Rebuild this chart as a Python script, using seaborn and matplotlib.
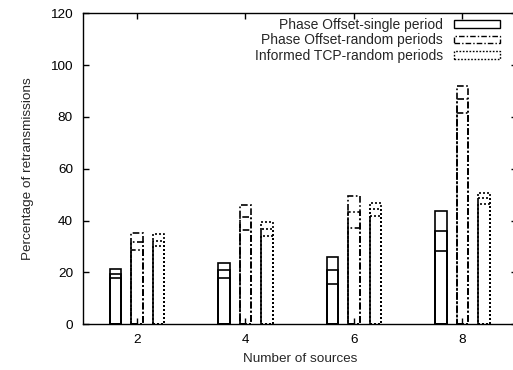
import matplotlib
matplotlib.use("Agg")
import matplotlib.pyplot as plt
from matplotlib.patches import Patch
import seaborn as sns
import pandas as pd

# ---- data ----
sources = [2, 4, 6, 8]
series_names = ["Phase Offset-single period",
                "Phase Offset-random periods",
                "Informed TCP-random periods"]

single_max = [21.2, 23.5, 25.8, 43.8]
single_mid = [19.5, 20.8, 20.9, 35.9]
single_min = [17.8, 17.7, 15.5, 28.2]

random_max = [35.3, 46.2, 49.5, 91.9]
random_mid = [31.9, 41.3, 43.2, 86.8]
random_min = [28.7, 36.4, 37.0, 81.7]

informed_max = [34.8, 39.5, 46.7, 50.6]
informed_mid = [32.3, 36.8, 44.4, 48.8]
informed_min = [30.2, 34.1, 41.8, 46.4]

y_ticks = [0, 20, 40, 60, 80, 100, 120]

levels = {
    "max": [single_max, random_max, informed_max],
    "mid": [single_mid, random_mid, informed_mid],
    "min": [single_min, random_min, informed_min],
}

rows = []
for lvl, arrs in levels.items():
    for name, vals in zip(series_names, arrs):
        for s, v in zip(sources, vals):
            rows.append({"sources": s, "series": name, "level": lvl, "value": v})
df = pd.DataFrame(rows)

# ---- style ----
sns.set_theme(style="ticks")
plt.rcParams["font.family"] = ["Liberation Sans", "DejaVu Sans"]
plt.rcParams["font.size"] = 9

fig = plt.figure(figsize=(5.13, 3.70), dpi=100)
ax = fig.add_axes([82.7 / 513, (370 - 324.3) / 370,
                   (516.7 - 82.7) / 513, (324.3 - 13.3) / 370])

line_styles = ["solid", (0, (4, 1.5, 1, 1.5)), (0, (1.2, 1.2))]

for lvl in ["max", "mid", "min"]:
    sns.barplot(data=df[df["level"] == lvl], x="sources", y="value",
                hue="series", hue_order=series_names,
                native_scale=True, dodge=True, fill=False,
                palette=["black"] * 3, width=0.595, gap=0.47,
                errorbar=None, legend=False, linewidth=1.2, ax=ax)

for j, cont in enumerate(ax.containers):
    for p in cont.patches:
        p.set_linestyle(line_styles[j % 3])
        p.set_edgecolor("black")
        p.set_facecolor("none")

ax.set_xlim(1, 9)
ax.set_ylim(0, 120)
ax.set_xticks(sources)
ax.set_xticklabels([str(s) for s in sources])
ax.set_yticks(y_ticks)
ax.tick_params(direction="in", top=True, right=True, length=4, width=1,
               labelsize=9.7, colors="black", pad=7)
for sp in ax.spines.values():
    sp.set_linewidth(1)
    sp.set_color("black")

ax.set_xlabel("Number of sources", fontsize=9.7, labelpad=5)
ax.set_ylabel("Percentage of retransmissions", fontsize=9.7, labelpad=12)

handles = [Patch(facecolor="none", edgecolor="black", linestyle=ls, linewidth=1)
           for ls in line_styles]
fig.legend(handles, series_names, loc="upper right",
           bbox_to_anchor=(500 / 513, (370 - 18) / 370),
           bbox_transform=fig.transFigure, frameon=False, markerfirst=False,
           borderpad=0, borderaxespad=0, handlelength=3.3, handleheight=0.45,
           handletextpad=0.8, labelspacing=0.1, fontsize=10)

fig.savefig("out.png", dpi=100)
